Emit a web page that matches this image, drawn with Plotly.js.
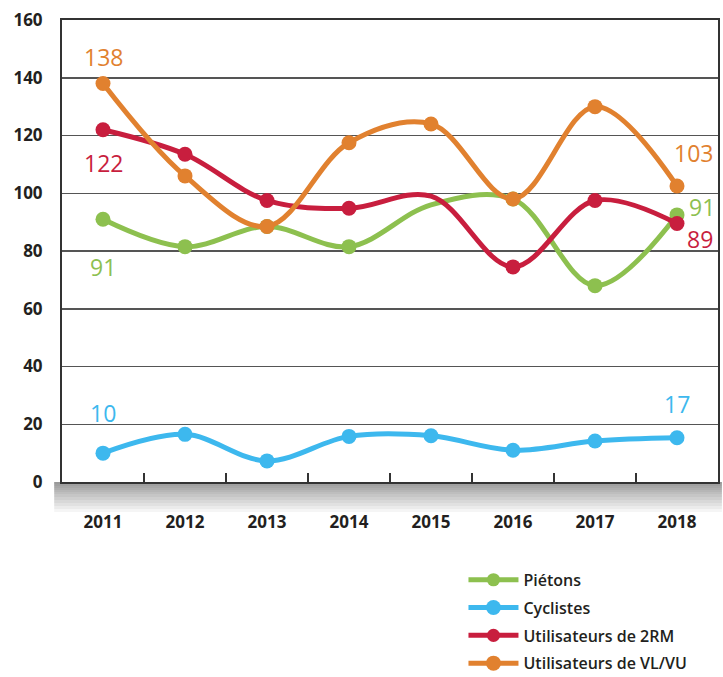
<!DOCTYPE html>
<html>
<head>
<meta charset="utf-8">
<script src="https://cdn.plot.ly/plotly-3.0.1.min.js"></script>
<style>
  html, body { margin: 0; padding: 0; background: #ffffff; }
  #chart { width: 723px; height: 677px; }
</style>
</head>
<body>
<div id="chart"></div>
<script>
// ---- data ----
const years = ['2011', '2012', '2013', '2014', '2015', '2016', '2017', '2018'];
const pietons = [91, 81.5, 88.5, 81.5, 96, 98, 68, 92.5];
const cyclistes = [10, 16.5, 7.3, 15.8, 16, 11, 14.2, 15.3];
const deuxRM = [122, 113.5, 97.5, 94.8, 99, 74.5, 97.5, 89.5];
const vlvu = [138, 106, 88.5, 117.5, 124, 98, 130, 102.5];
const seriesNames = ['Piétons', 'Cyclistes', 'Utilisateurs de 2RM', 'Utilisateurs de VL/VU'];
// labels shown at the first and last year
const firstLabels = ['91', '10', '122', '138'];
const lastLabels = ['91', '17', '89', '103'];
// points drawn without a dot (2015 for pedestrians and 2RM)
const hiddenDots = [[4], [], [4], []];

const colors = ['#8DC04F', '#3DB8EE', '#C81E3E', '#E1812F'];
const allSeries = [pietons, cyclistes, deuxRM, vlvu];

const traces = allSeries.map((vals, i) => ({
  type: 'scatter',
  mode: 'lines+markers',
  x: years,
  y: vals,
  name: seriesNames[i],
  legendgroup: 'g' + i,
  line: { color: colors[i], width: 5, shape: 'spline', smoothing: 1 },
  marker: {
    color: colors[i],
    opacity: 1,
    line: { width: 0 },
    size: vals.map((v, k) => hiddenDots[i].includes(k) ? 0 : 15)
  },
  hoverinfo: 'x+y+name'
}));

// label offsets (px) relative to the data point
const firstShift = [[0, -48], [0, 40], [0, -33], [0, 27]];
const lastShift = [[25, 8], [0, 34], [23, -15], [16, 33]];

const annotations = [];
allSeries.forEach((vals, i) => {
  annotations.push({
    x: 0, y: vals[0], xref: 'x', yref: 'y',
    text: firstLabels[i], showarrow: false,
    xshift: firstShift[i][0], yshift: firstShift[i][1],
    font: { family: 'Open Sans, sans-serif', size: 23, color: colors[i] }
  });
  annotations.push({
    x: years.length - 1, y: vals[vals.length - 1], xref: 'x', yref: 'y',
    text: lastLabels[i], showarrow: false,
    xshift: lastShift[i][0], yshift: lastShift[i][1],
    font: { family: 'Open Sans, sans-serif', size: 23, color: colors[i] }
  });
});

// soft shadow under the plot frame
const shapes = [];
const shadowSteps = [30, 27, 24, 21, 18, 15, 12, 10, 8, 6, 4, 2];
shadowSteps.forEach(h => {
  shapes.push({
    type: 'rect', xref: 'paper', yref: 'paper', layer: 'below',
    x0: -0.012, x1: 1.006, y0: 0, y1: -h / 462,
    line: { width: 0 }, fillcolor: 'rgba(0,0,0,0.04)'
  });
});

const layout = {
  width: 723,
  height: 677,
  margin: { l: 62, r: 5, t: 20, b: 195, autoexpand: false },
  paper_bgcolor: '#ffffff',
  plot_bgcolor: '#ffffff',
  showlegend: true,
  legend: {
    x: 0.612, y: -0.175, xanchor: 'left', yanchor: 'top',
    traceorder: 'grouped', tracegroupgap: 4,
    itemwidth: 50,
    font: { family: 'Open Sans, sans-serif', size: 16, color: '#231F20', weight: 600 },
    bgcolor: 'rgba(0,0,0,0)'
  },
  xaxis: {
    type: 'category',
    range: [-0.5, 7.5],
    tickson: 'boundaries',
    ticks: 'inside', ticklen: 9, tickwidth: 1.5, tickcolor: '#333',
    showline: true, linecolor: '#333', linewidth: 2, mirror: true,
    showgrid: false, zeroline: false,
    ticklabelstandoff: 24,
    tickfont: { family: 'Open Sans, sans-serif', size: 17, color: '#231F20', weight: 700 }
  },
  yaxis: {
    range: [0, 160],
    tickvals: [0, 20, 40, 60, 80, 100, 120, 140, 160],
    ticks: '',
    showline: true, linecolor: '#333', linewidth: 2, mirror: true,
    showgrid: true, gridcolor: '#555', gridwidth: 1.5,
    zeroline: false,
    ticklabelstandoff: 14,
    tickfont: { family: 'Open Sans, sans-serif', size: 17, color: '#231F20', weight: 700 }
  },
  annotations: annotations,
  shapes: shapes
};

Plotly.newPlot('chart', traces, layout, { displayModeBar: false, staticPlot: true });
</script>
</body>
</html>
